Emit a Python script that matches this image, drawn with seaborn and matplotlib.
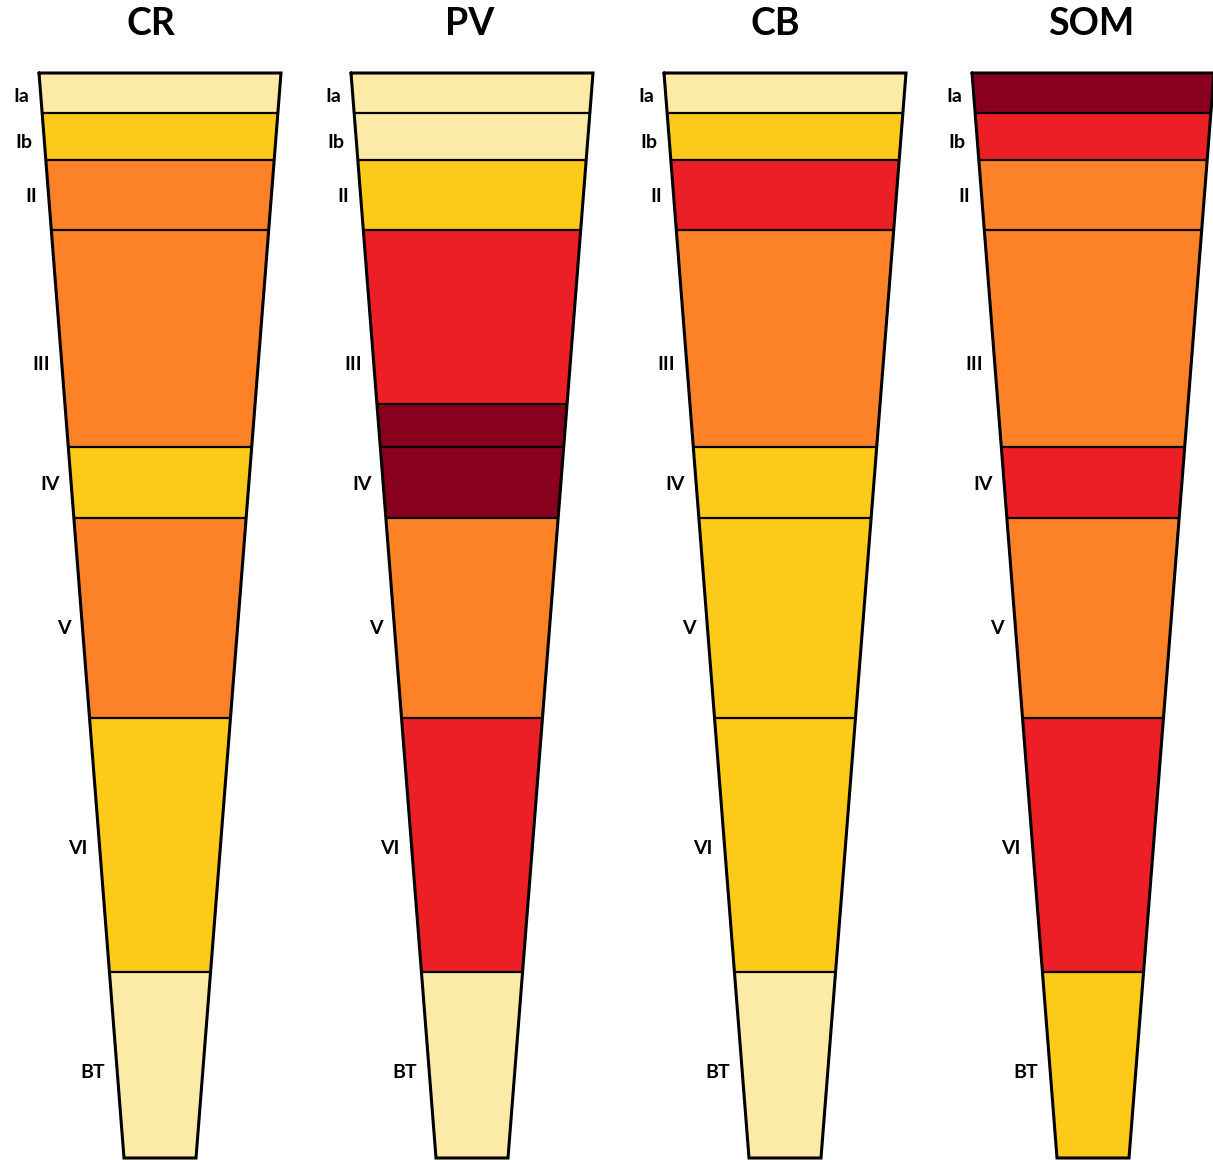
import numpy as np
import matplotlib
matplotlib.use("Agg")
import matplotlib.pyplot as plt
import seaborn as sns

# -----------------------------
# Data
# -----------------------------
regions = ["CR", "PV", "CB", "SOM"]
layer_names = ["Ia", "Ib", "II", "III", "IV", "V", "VI", "BT"]

# sublayer boundaries (depth, px from top of figure); III is split in two
bounds = [73, 113, 160, 230, 404, 447, 518, 718, 972, 1158]
sub_layer = ["Ia", "Ib", "II", "III", "III", "IV", "V", "VI", "BT"]

# expression level per sublayer (0 = lowest ... 4 = highest)
cr_levels = [0, 1, 2, 2, 2, 1, 2, 1, 0]
pv_levels = [0, 0, 1, 3, 4, 4, 2, 3, 0]
cb_levels = [0, 1, 3, 2, 2, 1, 1, 1, 0]
som_levels = [4, 3, 2, 2, 2, 3, 2, 3, 1]
levels = [cr_levels, pv_levels, cb_levels, som_levels]

label_depth = [96, 143, 196, 364, 485, 628, 849, 1072]

level_colors = ["#FCEAA7", "#FECA1A", "#FD8126", "#EC1E26", "#88001E"]

# -----------------------------
# Layout
# -----------------------------
col_center = [160, 472, 785, 1093]
title_x = [151, 470, 775, 1091]
top_half, bot_half = 121, 36

sns.set_style("white")
plt.rcParams["font.family"] = ["Lato", "DejaVu Sans"]
palette = sns.color_palette(level_colors)


def half_width(y):
    return top_half - (top_half - bot_half) * (y - bounds[0]) / (bounds[-1] - bounds[0])


fig = plt.figure(figsize=(12.13, 11.6), dpi=100)
ax = fig.add_axes([0, 0, 1, 1])
ax.set_xlim(0, 1213)
ax.set_ylim(1160, 0)
ax.axis("off")

for c, region in enumerate(regions):
    xc = col_center[c]
    lv = levels[c]
    # boundaries where a line is drawn: between named layers, or colour change
    cuts = [i for i in range(1, len(lv))
            if sub_layer[i] != sub_layer[i - 1] or lv[i] != lv[i - 1]]
    edges = [0] + cuts + [len(lv)]
    for a, b in zip(edges[:-1], edges[1:]):
        ys = np.array([bounds[a], bounds[b]])
        hw = half_width(ys)
        ax.fill_betweenx(ys, xc - hw, xc + hw, color=palette[lv[a]], lw=0)
    for i in cuts:
        y = bounds[i]
        hw = half_width(y)
        ax.plot([xc - hw, xc + hw], [y, y], color="black", lw=1.6,
                solid_capstyle="butt")
    # outline
    y0, y1 = bounds[0], bounds[-1]
    xs = [xc - half_width(y0), xc + half_width(y0), xc + half_width(y1),
          xc - half_width(y1), xc - half_width(y0)]
    ax.plot(xs, [y0, y0, y1, y1, y0], color="black", lw=2.2,
            solid_joinstyle="miter")
    # layer labels
    for name, yl in zip(layer_names, label_depth):
        ax.text(xc - half_width(yl) - 12, yl, name, ha="right", va="center",
                fontsize=14, fontweight="bold", color="black")
    ax.text(title_x[c], 24, region, ha="center", va="center",
            fontsize=27, fontweight="bold", color="black")

fig.savefig("out.png", dpi=100)
